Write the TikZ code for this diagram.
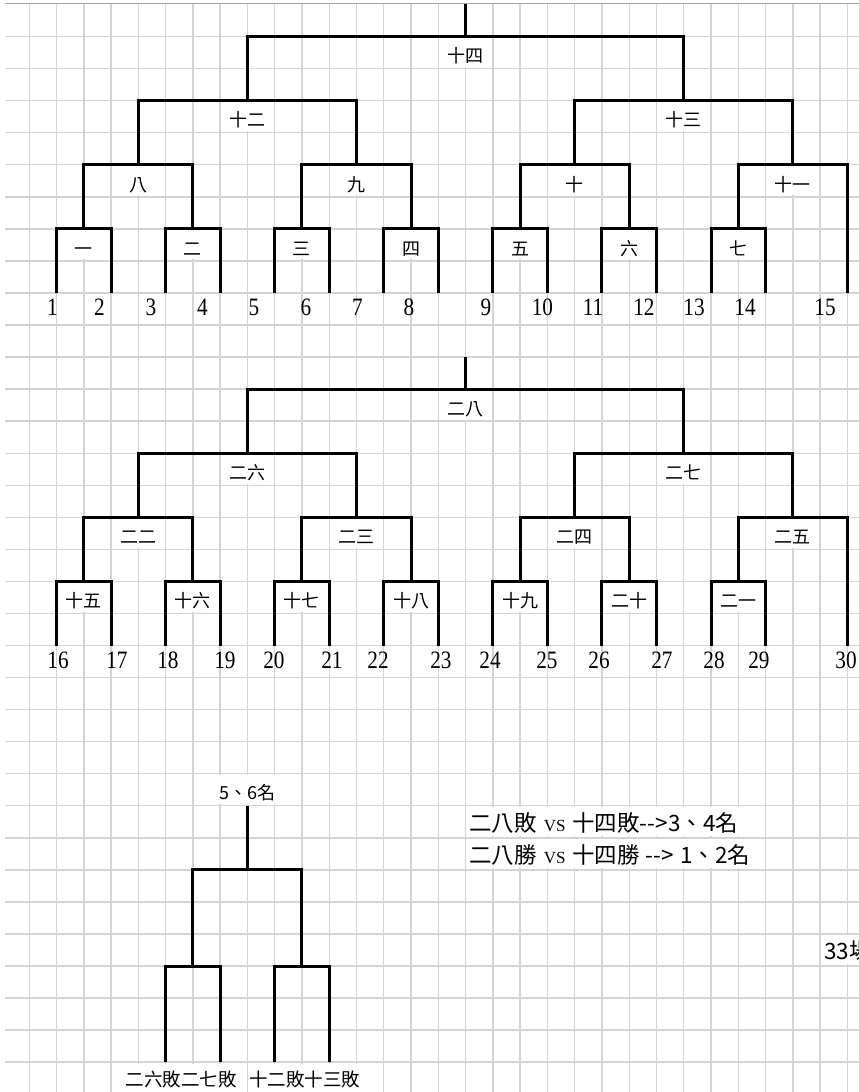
\documentclass[tikz,border=0pt]{standalone}
\usepackage{fontspec}
\setmainfont{Liberation Serif}
\newfontfamily\cjk{Noto Sans CJK TC}
\definecolor{gridc}{RGB}{212,212,212}
\definecolor{borderc}{RGB}{165,165,165}
\begin{document}
\begin{tikzpicture}[x=27.27pt,y=-32.05pt,
  gridl/.style={draw=gridc, line width=1.4pt},
  borderl/.style={draw=borderc, line width=1.3pt},
  br/.style={draw=black, line width=3pt, line join=miter},
  lab/.style={fill=white, inner xsep=1pt, inner ysep=0pt, minimum height=29pt,
    text height=20.5pt, text depth=0pt, font=\cjk\fontsize{18}{18}\selectfont},
  labb/.style={fill=white, inner xsep=1pt, inner ysep=0pt, minimum height=29pt,
    text height=16pt, text depth=0pt, font=\cjk\fontsize{18.5}{18.5}\selectfont},
  big/.style={fill=white, inner xsep=1pt, inner ysep=0pt, minimum height=29pt,
    text height=20pt, text depth=0pt, anchor=west, font=\cjk\fontsize{22.5}{22.5}\selectfont},
  num/.style={anchor=base, inner sep=0pt, xscale=0.85, font=\fontsize{25}{25}\selectfont}]
\useasboundingbox (-2pt,4.5pt) rectangle (857pt,-1087.5pt);
\clip (-2pt,4.5pt) rectangle (857pt,-1087.5pt);
\fill[white] (-2pt,4.5pt) rectangle (857pt,-1087.5pt);
% grid
\foreach \i in {1,...,31} \draw[gridl] (\i,-0.03) -- (\i,34.2);
\foreach \j in {1,...,33} \draw[gridl] (0.11,\j) -- (32,\j);
\draw[borderl] (0.11,-0.03) -- (32,-0.03);
% two brackets of 15
\foreach \o in {0,11}{
  \begin{scope}[yshift={-\o*32.05pt}]
  \draw[br] (17,0) -- (17,1);
  \draw[br] (9,3) |- (25,1) -- (25,3);
  \draw[br] (5,5) |- (13,3) -- (13,5);
  \draw[br] (21,5) |- (29,3) -- (29,5);
  \draw[br] (3,7) |- (7,5) -- (7,7);
  \draw[br] (11,7) |- (15,5) -- (15,7);
  \draw[br] (19,7) |- (23,5) -- (23,7);
  \draw[br] (27,7) |- (31,5) -- (31,9);
  \draw[br] (2,9) |- (4,7) -- (4,9);
  \draw[br] (6,9) |- (8,7) -- (8,9);
  \draw[br] (10,9) |- (12,7) -- (12,9);
  \draw[br] (14,9) |- (16,7) -- (16,9);
  \draw[br] (18,9) |- (20,7) -- (20,9);
  \draw[br] (22,9) |- (24,7) -- (24,9);
  \draw[br] (26,9) |- (28,7) -- (28,9);
  \end{scope}
}
% labels, first bracket
\node[lab] (a14) at (17,1.5) {十四};
\node[lab] (a12) at (9,3.5) {十二};
\node[lab] (a13) at (25,3.5) {十三};
\node[lab] (a8) at (5,5.5) {八};
\node[lab] (a9) at (13,5.5) {九};
\node[lab] (a10) at (21,5.5) {十};
\node[lab] (a11) at (29,5.5) {十一};
\node[lab] (a1) at (3,7.5) {一};
\node[lab] (a2) at (7,7.5) {二};
\node[lab] (a3) at (11,7.5) {三};
\node[lab] (a4) at (15,7.5) {四};
\node[lab] (a5) at (19,7.5) {五};
\node[lab] (a6) at (23,7.5) {六};
\node[lab] (a7) at (27,7.5) {七};
% numbers, first bracket
\node[num] (n1) at (1.852,9.69) {1};
\node[num] (n2) at (3.575,9.69) {2};
\node[num] (n3) at (5.464,9.69) {3};
\node[num] (n4) at (7.352,9.69) {4};
\node[num] (n5) at (9.241,9.69) {5};
\node[num] (n6) at (11.148,9.69) {6};
\node[num] (n7) at (13.036,9.69) {7};
\node[num] (n8) at (14.925,9.69) {8};
\node[num] (n9) at (17.748,9.69) {9};
\node[num] (n10) at (19.82,9.69) {10};
\node[num] (n11) at (21.672,9.69) {11};
\node[num] (n12) at (23.542,9.69) {12};
\node[num] (n13) at (25.376,9.69) {13};
\node[num] (n14) at (27.246,9.69) {14};
\node[num] (n15) at (30.18,9.69) {15};
% labels, second bracket
\node[lab] (b28) at (17,12.5) {二八};
\node[lab] (b26) at (9,14.5) {二六};
\node[lab] (b27) at (25,14.5) {二七};
\node[lab] (b22) at (5,16.5) {二二};
\node[lab] (b23) at (13,16.5) {二三};
\node[lab] (b24) at (21,16.5) {二四};
\node[lab] (b25) at (29,16.5) {二五};
\node[lab] (b15) at (3,18.5) {十五};
\node[lab] (b16) at (7,18.5) {十六};
\node[lab] (b17) at (11,18.5) {十七};
\node[lab] (b18) at (15,18.5) {十八};
\node[lab] (b19) at (19,18.5) {十九};
\node[lab] (b20) at (23,18.5) {二十};
\node[lab] (b21) at (27,18.5) {二一};
% numbers, second bracket
\node[num] (n16) at (2.054,20.71) {16};
\node[num] (n17) at (4.217,20.71) {17};
\node[num] (n18) at (6.087,20.71) {18};
\node[num] (n19) at (8.177,20.71) {19};
\node[num] (n20) at (9.974,20.71) {20};
\node[num] (n21) at (12.101,20.71) {21};
\node[num] (n22) at (13.788,20.71) {22};
\node[num] (n23) at (16.098,20.71) {23};
\node[num] (n24) at (17.895,20.71) {24};
\node[num] (n25) at (19.985,20.71) {25};
\node[num] (n26) at (21.892,20.71) {26};
\node[num] (n27) at (24.202,20.71) {27};
\node[num] (n28) at (26.109,20.71) {28};
\node[num] (n29) at (27.759,20.71) {29};
\node[num] (n30) at (30.95,20.71) {30};
% 5-6 place bracket
\node[lab] (c56) at (9,24.5) {5、6名};
\draw[br] (9,25) -- (9,27);
\draw[br] (7,30) |- (11,27) -- (11,30);
\draw[br] (6,33) |- (8,30) -- (8,33);
\draw[br] (10,33) |- (12,30) -- (12,33);
\node[labb] (cl) at (6.564,33.5) {二六敗二七敗};
\node[labb] (cr) at (11.11,33.5) {十二敗十三敗};
% notes
\node[big] (r1) at (17.09,25.5) {二八敗\hspace{7pt}{\rmfamily\fontsize{17}{17}\selectfont VS}\hspace{7pt}十四敗-{}-{}>3、4名};
\node[big] (r2) at (17.09,26.5) {二八勝\hspace{7pt}{\rmfamily\fontsize{17}{17}\selectfont VS}\hspace{7pt}十四勝\hspace{6pt}-{}-{}>\hspace{6pt}1、2名};
\node[big] (r3) at (30.1,29.5) {33場};
\end{tikzpicture}
\end{document}
